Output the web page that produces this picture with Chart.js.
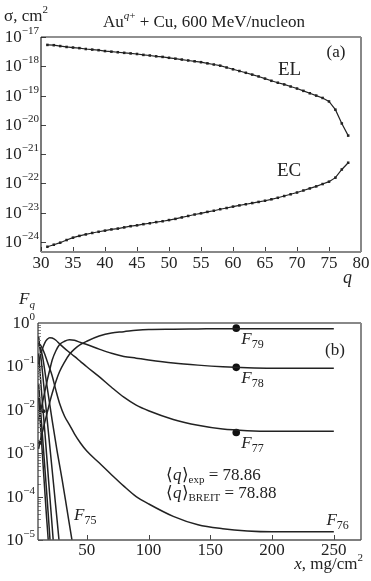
<!DOCTYPE html>
<html>
<head>
<meta charset="utf-8">
<script src="https://cdn.jsdelivr.net/npm/chart.js@4.4.1/dist/chart.umd.min.js"></script>
<style>
    html, body { margin: 0; padding: 0; background: #fff; }
    #quadro { position: relative; width: 371px; height: 581px; }
    .painel { position: absolute; left: 0; width: 371px; }
</style>
</head>
<body>
<div id="quadro">
    <div class="painel" style="top:0;height:288px"><canvas id="graficoA" width="371" height="288"></canvas></div>
    <div class="painel" style="top:288px;height:293px"><canvas id="graficoB" width="371" height="293"></canvas></div>
</div>
<script>
// painel (a): secoes de choque EL / EC em funcao da carga q
var qCarga = [31, 32, 33, 34, 35, 36, 37, 38, 39, 40, 41, 42, 43, 44, 45, 46, 47, 48, 49, 50,
    51, 52, 53, 54, 55, 56, 57, 58, 59, 60, 61, 62, 63, 64, 65, 66, 67, 68, 69, 70,
    71, 72, 73, 74, 75, 76, 77, 78];
var secaoEL = [5.37e-18, 5.25e-18, 4.9e-18, 4.57e-18, 4.37e-18, 4.17e-18, 3.89e-18, 3.72e-18, 3.55e-18, 3.31e-18,
    3.16e-18, 3.02e-18, 2.88e-18, 2.75e-18, 2.63e-18, 2.45e-18, 2.34e-18, 2.19e-18, 2.09e-18, 1.95e-18,
    1.82e-18, 1.70e-18, 1.58e-18, 1.48e-18, 1.38e-18, 1.26e-18, 1.15e-18, 1.05e-18, 9.1e-19, 7.9e-19,
    6.9e-19, 6.0e-19, 5.2e-19, 4.5e-19, 3.8e-19, 3.2e-19, 2.75e-19, 2.4e-19, 2.04e-19, 1.74e-19,
    1.45e-19, 1.2e-19, 1.0e-19, 8.3e-20, 6.3e-20, 3.3e-20, 1.12e-20, 4.3e-21];
var secaoEC = [6.9e-25, 8.1e-25, 9.5e-25, 1.17e-24, 1.41e-24, 1.62e-24, 1.82e-24, 2.04e-24, 2.24e-24, 2.45e-24,
    2.69e-24, 2.88e-24, 3.16e-24, 3.47e-24, 3.72e-24, 4.07e-24, 4.37e-24, 4.79e-24, 5.13e-24, 5.62e-24,
    6.17e-24, 6.92e-24, 7.76e-24, 8.71e-24, 9.55e-24, 1.07e-23, 1.17e-23, 1.32e-23, 1.45e-23, 1.62e-23,
    1.78e-23, 1.95e-23, 2.14e-23, 2.34e-23, 2.57e-23, 2.88e-23, 3.24e-23, 3.72e-23, 4.27e-23, 4.9e-23,
    5.75e-23, 6.76e-23, 7.94e-23, 9.55e-23, 1.15e-22, 1.58e-22, 3.0e-22, 5.1e-22];
var ticksQ = [30, 35, 40, 45, 50, 55, 60, 65, 70, 75, 80];
var expoentesA = [-24, -23, -22, -21, -20, -19, -18, -17];

// painel (b): fracoes de carga F_q em funcao da espessura x
var xEspessura = [11, 12, 14, 16, 18, 20, 22, 25, 28, 32, 36, 40, 45, 50, 60, 70, 80, 90, 100, 120, 140, 160, 180, 200, 225, 250];
var fracao79 = [1.26e-3, 1.74e-3, 3.0e-3, 5.2e-3, 8.7e-3, 0.0148, 0.024, 0.045, 0.076, 0.126, 0.19, 0.25, 0.32,
    0.38, 0.5, 0.59, 0.63, 0.68, 0.71, 0.72, 0.73, 0.74, 0.74, 0.74, 0.74, 0.74];
var fracao78 = [5.6e-3, 7.9e-3, 0.0141, 0.026, 0.048, 0.083, 0.141, 0.23, 0.32, 0.38, 0.41, 0.40, 0.355,
    0.32, 0.25, 0.2, 0.17, 0.155, 0.141, 0.12, 0.107, 0.098, 0.093, 0.091, 0.091, 0.091];
var fracao77 = [0.112, 0.158, 0.25, 0.35, 0.42, 0.46, 0.45, 0.4, 0.33, 0.26, 0.21, 0.17, 0.129,
    0.098, 0.058, 0.033, 0.0195, 0.0128, 0.0095, 0.006, 0.0044, 0.0036, 0.0033, 0.0032, 0.0032, 0.0032];
var fracao76 = [0.28, 0.32, 0.26, 0.19, 0.13, 0.089, 0.06, 0.028, 0.014, 0.0071, 0.0045, 0.0028, 0.0017,
    0.00112, 6.0e-4, 3.2e-4, 1.74e-4, 1.0e-4, 6.8e-5, 3.5e-5, 2.24e-5, 1.82e-5, 1.62e-5, 1.55e-5, 1.55e-5, 1.55e-5];
var xF75 = [11, 14, 18, 22, 26, 30, 34, 38, 40];
var fracao75 = [0.35, 0.18, 0.032, 5.6e-3, 1.1e-3, 2.5e-4, 5e-5, 1e-5, 4.5e-6];
var xF74 = [11, 14, 18, 22, 26, 29];
var fracao74 = [0.5, 0.08, 5.6e-3, 4e-4, 2.8e-5, 3.5e-6];
var xF73 = [11, 13, 16, 19, 22, 24];
var fracao73 = [0.2, 0.035, 3.2e-3, 2.5e-4, 2e-5, 3.5e-6];
var xF72 = [11, 14, 17, 20, 22];
var fracao72 = [0.04, 2.8e-3, 2e-4, 1.26e-5, 1.5e-6];
var xF71 = [11, 14, 17, 19, 20];
var fracao71 = [0.02, 1e-3, 5e-5, 8e-6, 2.5e-6];
var xPontoExp = [171, 171, 171];
var fracaoPontoExp = [0.76, 0.095, 0.003];
var xPontoEsq = [12.2, 14.9];
var fracaoPontoEsq = [1.74e-3, 9.3e-3];
var ticksEspessura = [50, 100, 150, 200, 250];
var expoentesB = [-5, -4, -3, -2, -1, 0];

var fonteSerif = '"Liberation Serif", "Times New Roman", serif';
var corTexto = '#222';

function pares(xs, ys) {
    var lista = [];
    for (var i = 0; i < xs.length; i++) {
        lista.push({ x: xs[i], y: ys[i] });
    }
    return lista;
}

function expoente(e) {
    return e < 0 ? '\u2212' + Math.abs(e) : String(e);
}

// escreve texto com partes em tamanhos / deslocamentos diferentes (sobrescrito, subscrito)
function textoRico(ctx, partes, x, y, alinhamento) {
    var largura = 0;
    partes.forEach(function (p) {
        ctx.font = (p.i ? 'italic ' : '') + p.s + 'px ' + fonteSerif;
        largura += ctx.measureText(p.t).width;
    });
    var cx = x;
    if (alinhamento === 'right') cx = x - largura;
    if (alinhamento === 'center') cx = x - largura / 2;
    ctx.textAlign = 'left';
    ctx.textBaseline = 'alphabetic';
    ctx.fillStyle = corTexto;
    partes.forEach(function (p) {
        ctx.font = (p.i ? 'italic ' : '') + p.s + 'px ' + fonteSerif;
        ctx.fillText(p.t, cx, y + (p.dy || 0));
        cx += ctx.measureText(p.t).width;
    });
}

function linha(ctx, x1, y1, x2, y2) {
    ctx.beginPath();
    ctx.moveTo(x1, y1);
    ctx.lineTo(x2, y2);
    ctx.stroke();
}

function moldura(ctx, area, cores) {
    ctx.lineWidth = cores.top[1]; ctx.strokeStyle = cores.top[0];
    linha(ctx, area.left, area.top, area.right, area.top);
    ctx.lineWidth = cores.left[1]; ctx.strokeStyle = cores.left[0];
    linha(ctx, area.left, area.top, area.left, area.bottom);
    ctx.lineWidth = cores.right[1]; ctx.strokeStyle = cores.right[0];
    linha(ctx, area.right, area.top, area.right, area.bottom);
    ctx.lineWidth = cores.bottom[1]; ctx.strokeStyle = cores.bottom[0];
    linha(ctx, area.left, area.bottom, area.right, area.bottom);
}

var pluginPainelA = {
    id: 'painelA',
    afterDraw: function (chart) {
        var ctx = chart.ctx, area = chart.chartArea;
        var sx = chart.scales.x, sy = chart.scales.y;
        ctx.save();
        ctx.strokeStyle = '#444';
        ctx.lineWidth = 1;
        expoentesA.forEach(function (e) {
            var py = Math.round(sy.getPixelForValue(Math.pow(10, e))) + 0.5;
            linha(ctx, area.left, py, area.left + 5, py);
        });
        ticksQ.forEach(function (v) {
            var px = Math.round(sx.getPixelForValue(v)) + 0.5;
            linha(ctx, px, area.bottom, px, area.bottom - 5);
        });
        moldura(ctx, area, { top: ['#222', 1.2], left: ['#222', 1.2], right: ['#888', 2], bottom: ['#888', 2] });

        expoentesA.forEach(function (e) {
            var py = sy.getPixelForValue(Math.pow(10, e));
            textoRico(ctx, [{ t: '10', s: 17 }, { t: expoente(e), s: 11, dy: -8 }], area.left - 2, py + 5, 'right');
        });
        textoRico(ctx, [{ t: '\u03c3, cm', s: 17 }, { t: '2', s: 11, dy: -8 }], 4, 21, 'left');
        textoRico(ctx, [{ t: 'Au', s: 17 }, { t: 'q', s: 11, i: true, dy: -8 }, { t: '+', s: 11, dy: -8 },
            { t: ' + Cu, 600 MeV/nucleon', s: 17 }], 204, 27, 'center');
        textoRico(ctx, [{ t: '(a)', s: 17 }], 336, 57, 'center');
        textoRico(ctx, [{ t: 'EL', s: 19 }], 278, 75, 'left');
        textoRico(ctx, [{ t: 'EC', s: 19 }], 277, 176, 'left');
        textoRico(ctx, [{ t: 'q', s: 18, i: true }], 343, 283, 'left');
        ctx.restore();
    }
};

var pluginPainelB = {
    id: 'painelB',
    afterDraw: function (chart) {
        var ctx = chart.ctx, area = chart.chartArea;
        var sx = chart.scales.x, sy = chart.scales.y;
        ctx.save();
        ctx.lineWidth = 1;
        expoentesB.forEach(function (e) {
            ctx.strokeStyle = '#444';
            var py = Math.round(sy.getPixelForValue(Math.pow(10, e))) + 0.5;
            linha(ctx, area.left, py, area.left + 5, py);
            if (e < 0) {
                ctx.strokeStyle = '#888';
                for (var m = 2; m <= 9; m++) {
                    var pm = Math.round(sy.getPixelForValue(m * Math.pow(10, e))) + 0.5;
                    linha(ctx, area.left, pm, area.left + 3, pm);
                }
            }
        });
        ctx.strokeStyle = '#444';
        ticksEspessura.forEach(function (v) {
            var px = Math.round(sx.getPixelForValue(v)) + 0.5;
            linha(ctx, px, area.bottom, px, area.bottom - 5);
        });
        moldura(ctx, area, { top: ['#888', 2], left: ['#333', 1.2], right: ['#888', 2], bottom: ['#555', 1.5] });

        expoentesB.forEach(function (e) {
            var py = sy.getPixelForValue(Math.pow(10, e));
            textoRico(ctx, [{ t: '10', s: 17 }, { t: expoente(e), s: 11, dy: -8 }], area.left - 3, py + 5, 'right');
        });

        var nomes = ['79', '78', '77'];
        for (var i = 0; i < xPontoExp.length; i++) {
            var px = sx.getPixelForValue(xPontoExp[i]);
            var py = sy.getPixelForValue(fracaoPontoExp[i]);
            textoRico(ctx, [{ t: 'F', s: 17, i: true }, { t: nomes[i], s: 12, dy: 4 }], px + 5, py + 16, 'left');
        }
        var p76 = sy.getPixelForValue(fracao76[fracao76.length - 1]);
        textoRico(ctx, [{ t: 'F', s: 17, i: true }, { t: '76', s: 12, dy: 4 }], sx.getPixelForValue(244), p76 - 7, 'left');
        textoRico(ctx, [{ t: 'F', s: 17, i: true }, { t: '75', s: 12, dy: 4 }], 74, 232, 'left');
        textoRico(ctx, [{ t: '(b)', s: 17 }], 335, 67, 'center');
        textoRico(ctx, [{ t: 'F', s: 17, i: true }, { t: 'q', s: 11, i: true, dy: 4 }], 19, 16, 'left');
        textoRico(ctx, [{ t: '\u27e8', s: 17 }, { t: 'q', s: 17, i: true }, { t: '\u27e9', s: 17 },
            { t: 'exp', s: 11, dy: 3 }, { t: ' = 78.86', s: 17 }], 166, 192, 'left');
        textoRico(ctx, [{ t: '\u27e8', s: 17 }, { t: 'q', s: 17, i: true }, { t: '\u27e9', s: 17 },
            { t: 'BREIT', s: 11, dy: 3 }, { t: ' = 78.88', s: 17 }], 166, 210, 'left');
        textoRico(ctx, [{ t: 'x', s: 17, i: true }, { t: ', mg/cm', s: 17 }, { t: '2', s: 11, dy: -8 }], 363, 281, 'right');
        ctx.restore();
    }
};

function eixoX(min, max, valores, altura, padding) {
    return {
        type: 'linear',
        min: min,
        max: max,
        grid: { display: false, drawTicks: false },
        border: { display: false },
        ticks: { color: corTexto, font: { family: fonteSerif, size: 17 }, padding: padding, maxRotation: 0, autoSkip: false },
        afterBuildTicks: function (scale) {
            scale.ticks = valores.map(function (v) { return { value: v }; });
        },
        afterFit: function (scale) { scale.height = altura; }
    };
}

function eixoY(min, max, expoentes, largura) {
    return {
        type: 'logarithmic',
        min: min,
        max: max,
        grid: { display: false, drawTicks: false },
        border: { display: false },
        ticks: { display: false },
        afterBuildTicks: function (scale) {
            scale.ticks = expoentes.map(function (e) { return { value: Math.pow(10, e) }; });
        },
        afterFit: function (scale) { scale.width = largura; }
    };
}

var linhaPontos = {
    borderColor: '#222',
    backgroundColor: '#222',
    borderWidth: 1.2,
    pointStyle: 'rect',
    pointRadius: 1.8,
    pointBorderWidth: 0,
    tension: 0
};

var graficoA = new Chart(document.getElementById('graficoA'), {
    type: 'line',
    data: {
        datasets: [
            Object.assign({ label: 'EL', data: pares(qCarga, secaoEL) }, linhaPontos),
            Object.assign({ label: 'EC', data: pares(qCarga, secaoEC) }, linhaPontos)
        ]
    },
    options: {
        responsive: false,
        animation: false,
        devicePixelRatio: 1,
        layout: { padding: { top: 37, right: 10, left: 0, bottom: 0 } },
        plugins: { legend: { display: false }, tooltip: { enabled: false } },
        scales: {
            x: eixoX(30, 80, ticksQ, 36, 1),
            y: eixoY(4.57e-25, 1e-17, expoentesA, 41)
        }
    },
    plugins: [pluginPainelA]
});

function curva(nome, xs, ys) {
    return {
        label: nome,
        data: pares(xs, ys),
        borderColor: '#222',
        borderWidth: 1.5,
        pointRadius: 0,
        cubicInterpolationMode: 'monotone'
    };
}

var graficoB = new Chart(document.getElementById('graficoB'), {
    type: 'line',
    data: {
        datasets: [
            curva('F79', xEspessura, fracao79),
            curva('F78', xEspessura, fracao78),
            curva('F77', xEspessura, fracao77),
            curva('F76', xEspessura, fracao76),
            curva('F75', xF75, fracao75),
            curva('F74', xF74, fracao74),
            curva('F73', xF73, fracao73),
            curva('F72', xF72, fracao72),
            curva('F71', xF71, fracao71),
            {
                label: 'exp',
                data: pares(xPontoExp, fracaoPontoExp),
                showLine: false,
                pointRadius: 3.8,
                pointBackgroundColor: '#111',
                pointBorderWidth: 0
            },
            {
                label: 'exp esq',
                data: pares(xPontoEsq, fracaoPontoEsq),
                showLine: false,
                pointRadius: 2,
                pointBackgroundColor: '#222',
                pointBorderWidth: 0
            }
        ]
    },
    options: {
        responsive: false,
        animation: false,
        devicePixelRatio: 1,
        layout: { padding: { top: 35, right: 10, left: 0, bottom: 0 } },
        plugins: { legend: { display: false }, tooltip: { enabled: false } },
        scales: {
            x: eixoX(10.5, 272, ticksEspessura, 41, 0),
            y: eixoY(1e-5, 1, expoentesB, 38)
        }
    },
    plugins: [pluginPainelB]
});
</script>
</body>
</html>
